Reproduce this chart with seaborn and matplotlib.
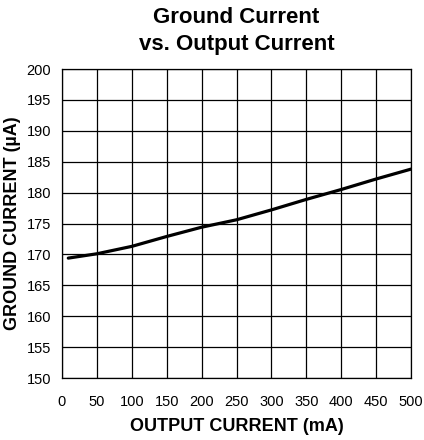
import matplotlib
matplotlib.use("Agg")
import matplotlib.pyplot as plt
import seaborn as sns
import pandas as pd

# values
output_current = [9, 50, 100, 150, 200, 250, 300, 350, 400, 450, 500]
ground_current = [169.4, 170.1, 171.3, 172.9, 174.4, 175.6, 177.2, 178.9, 180.5, 182.2, 183.8]

x_ticks = list(range(0, 501, 50))
y_ticks = list(range(150, 201, 5))

df = pd.DataFrame({"out": output_current, "gnd": ground_current})

sns.set_style("white")
plt.rcParams["font.family"] = ["Liberation Sans", "DejaVu Sans"]
plt.rcParams["text.color"] = "black"
plt.rcParams["axes.labelcolor"] = "black"
plt.rcParams["xtick.color"] = "black"
plt.rcParams["ytick.color"] = "black"

fig = plt.figure(figsize=(4.24, 4.40), dpi=100)
ax = fig.add_axes([62 / 424, 1 - 378 / 440, 349 / 424, 309 / 440])

sns.lineplot(data=df, x="out", y="gnd", ax=ax, color="black", linewidth=2.3)

ax.set_xlim(0, 500)
ax.set_ylim(150, 200)
ax.set_xticks(x_ticks)
ax.set_yticks(y_ticks)
ax.grid(True, color="black", linewidth=0.9)
ax.tick_params(axis="x", length=0, pad=12, labelsize=10.5)
ax.tick_params(axis="y", length=0, pad=8, labelsize=10.5)
for s in ax.spines.values():
    s.set_color("black")
    s.set_linewidth(0.9)

ax.set_xlabel("OUTPUT CURRENT (mA)", fontsize=13, fontweight="bold", labelpad=7)
ax.set_ylabel("GROUND CURRENT (µA)", fontsize=13, fontweight="bold", labelpad=4)
ax.set_title("Ground Current\nvs. Output Current", fontsize=16, fontweight="bold",
             pad=14, linespacing=1.35)

fig.savefig("out.png", dpi=100)
